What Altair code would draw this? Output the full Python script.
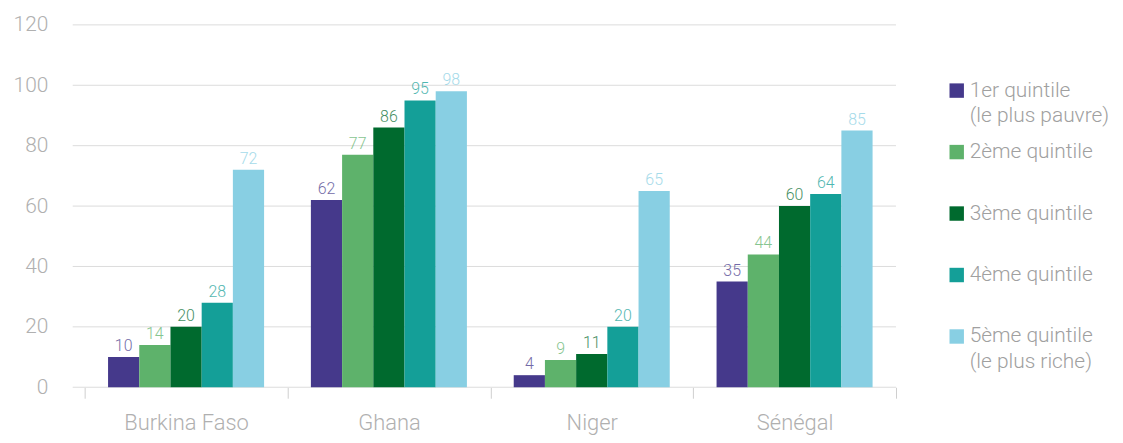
import altair as alt
import pandas as pd

countries = ["Burkina Faso", "Ghana", "Niger", "Sénégal"]
quintiles = ["q1", "q2", "q3", "q4", "q5"]
q1 = [10, 62, 4, 35]
q2 = [14, 77, 9, 44]
q3 = [20, 86, 11, 60]
q4 = [28, 95, 20, 64]
q5 = [72, 98, 65, 85]
series = [q1, q2, q3, q4, q5]
legend_line1 = ["1er quintile", "2ème quintile", "3ème quintile", "4ème quintile", "5ème quintile"]
legend_line2 = ["(le plus pauvre)", "", "", "", "(le plus riche)"]
colors = ["#45398b", "#5eb26b", "#006a2e", "#149f98", "#88cfe3"]
y_ticks = [0, 20, 40, 60, 80, 100, 120]

FONT = "Roboto"
GRAY = "#b0b0b0"
GRID = "#dcdcdc"

rows = []
for qi, q in enumerate(quintiles):
    for ci, c in enumerate(countries):
        rows.append({"country": c, "quintile": q, "value": series[qi][ci]})
df = pd.DataFrame(rows)
grid_df = pd.DataFrame({"tick": y_ticks})
leg_df = pd.DataFrame({"quintile": quintiles, "line1": legend_line1, "line2": legend_line2})

W, H = 815, 364
color_scale = alt.Scale(domain=quintiles, range=colors)
y_scale = alt.Scale(domain=[0, 120], nice=False)

grid = alt.Chart(grid_df).mark_rule(color=GRID, strokeWidth=1).encode(
    y=alt.Y("tick:Q", scale=y_scale, title=None),
    x=alt.value(-12),
    x2=alt.value(W),
)

base = alt.Chart(df).encode(
    x=alt.X("country:N", sort=countries, title=None,
            scale=alt.Scale(paddingInner=0, paddingOuter=0),
            axis=alt.Axis(labelAngle=0, tickBand="extent", ticks=True, tickSize=11,
                          tickColor="#cfcfcf", domain=False, labelPadding=14,
                          labelFontSize=22, labelColor=GRAY, labelFont=FONT,
                          labelFontWeight=300)),
    xOffset=alt.XOffset("quintile:N", sort=quintiles,
                        scale=alt.Scale(paddingInner=0, paddingOuter=0.75)),
    y=alt.Y("value:Q", scale=y_scale, title=None,
            axis=alt.Axis(values=y_ticks, grid=False, domain=False, ticks=False,
                          labelPadding=37, labelFontSize=21, labelColor=GRAY,
                          labelFont=FONT, labelFontWeight=300)),
)

bars = base.mark_bar().encode(
    color=alt.Color("quintile:N", scale=color_scale, legend=None)
)
labels = base.mark_text(baseline="alphabetic", dy=-6, fontSize=16, font=FONT,
                        fontWeight=300, opacity=0.75).encode(
    text=alt.Text("value:Q"),
    color=alt.Color("quintile:N", scale=color_scale, legend=None),
)

main = alt.layer(grid, bars, labels).properties(width=W, height=H)

leg_y = alt.Y("quintile:N", sort=quintiles, axis=None,
              scale=alt.Scale(type="point", range=[66, 313], padding=0))
leg_base = alt.Chart(leg_df).encode(y=leg_y)
leg_sq = leg_base.mark_square(size=210, opacity=1).encode(
    x=alt.value(40),
    color=alt.Color("quintile:N", scale=color_scale, legend=None),
)
leg_t1 = leg_base.mark_text(align="left", baseline="middle", fontSize=21, font=FONT,
                            fontWeight=300, color="#a0a0a0").encode(
    x=alt.value(53), text="line1:N")
leg_t2 = leg_base.mark_text(align="left", baseline="middle", fontSize=21, font=FONT,
                            fontWeight=300, color="#a0a0a0", dy=26).encode(
    x=alt.value(53), text="line2:N")
legend = alt.layer(leg_sq, leg_t1, leg_t2).properties(width=190, height=H)

chart = alt.hconcat(main, legend, spacing=20).configure(
    font=FONT
).configure_view(stroke=None).properties(padding=5)

chart.save("out.html", embed_options={"renderer": "svg", "actions": False})
